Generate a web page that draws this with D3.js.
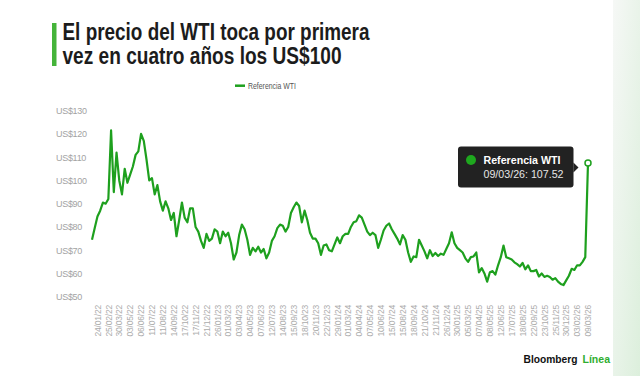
<!DOCTYPE html>
<html>
<head>
<meta charset="utf-8">
<script src="https://cdn.jsdelivr.net/npm/d3@7"></script>
<style>
  body { margin: 0; background: #fff; }
  svg { display: block; font-family: "Liberation Sans", Arial, sans-serif; }
</style>
</head>
<body>
<div id="chart"></div>
<script>
// tick labels on the x axis (one every 4 samples)
var dateLabels = ["24/01/22","25/02/22","30/03/22","03/05/22","06/06/22","11/07/22","11/08/22","14/09/22",
  "17/10/22","17/11/22","21/12/22","26/01/23","01/03/23","03/04/23","04/05/23","07/06/23","12/07/23",
  "14/08/23","15/09/23","18/10/23","20/11/23","22/12/23","29/01/24","01/03/24","04/04/24","07/05/24",
  "10/06/24","15/07/24","15/08/24","18/09/24","21/10/24","21/11/24","26/12/24","30/01/25","05/03/25",
  "07/04/25","08/05/25","12/06/25","17/07/25","18/08/25","22/09/25","23/10/25","25/11/25","30/12/25",
  "03/02/26","09/03/26"];

// WTI price, roughly weekly samples
var wti = [74.5,79.5,84.5,87,90.5,90,92,121.5,95,112,100,94,105,99,102.5,106,111,112.5,120,117,
  109,100,101,94,98,91,87,91,88,83,86,76,83,90.5,84,82,88,88,80,78,
  74,71,77,74,75,79,78,73,78,76,77.5,73,66,69,76.5,81,79,74.5,68,71,
  69.5,71.5,69,70.5,66.5,69,74,76,79.5,81,80.5,78,80,86,88.5,90.5,89,82,87,83,
  77.5,75,75,73,68,72,72.5,70,69.5,72.5,75.5,73,76,77,77,80,82,82.5,85,84,
  81,78,76.5,77.5,76.5,71,74.5,78.5,80.5,81.5,79,77,75,72.5,76.5,74.5,69,65,67.3,67,
  74.5,72,69.5,66.5,70,67.5,68.8,67.5,68.5,68,70.5,73,77.7,73,71,70,69,66.5,65,67,
  67.3,69,60.5,62.3,60,56.5,60.5,61,59.5,63.5,67,72,67,66.5,66,64.8,64,63,64.5,61.8,
  63.5,61,61,61.5,58.7,60,58.5,59,58.5,57.3,58,56.5,55.5,55,57,59,62,61.5,63.5,63.5,
  65,67,107.52];

var yTicks = [50,60,70,80,90,100,110,120,130];
var seriesName = "Referencia WTI";

var W = 640, H = 376;
var green = "#1ea01e";

var svg = d3.select("#chart").append("svg")
    .attr("width", W)
    .attr("height", H);

var defs = svg.append("defs");
var grad = defs.append("linearGradient").attr("id", "edge").attr("x1", 0).attr("x2", 1).attr("y1", 0).attr("y2", 1);
grad.append("stop").attr("offset", "0%").attr("stop-color", "#f6f8f6");
grad.append("stop").attr("offset", "100%").attr("stop-color", "#dcefdc");

svg.append("rect").attr("width", W).attr("height", H).attr("fill", "#fff");
// faint backdrop outside the card on the right
svg.append("rect").attr("x", 613).attr("y", 0).attr("width", W - 613).attr("height", H).attr("fill", "url(#edge)");

// title with the green bar
svg.append("rect").attr("x", 52).attr("y", 23).attr("width", 4.5).attr("height", 43).attr("fill", "#45b43a");
svg.append("text").attr("x", 62.5).attr("y", 40)
    .attr("font-size", 23).attr("font-weight", "bold").attr("fill", "#1c1c1c")
    .attr("textLength", 307).attr("lengthAdjust", "spacingAndGlyphs")
    .text("El precio del WTI toca por primera");
svg.append("text").attr("x", 62.5).attr("y", 63.5)
    .attr("font-size", 23).attr("font-weight", "bold").attr("fill", "#1c1c1c")
    .attr("textLength", 279).attr("lengthAdjust", "spacingAndGlyphs")
    .text("vez en cuatro años los US$100");

// legend
svg.append("line").attr("x1", 235).attr("x2", 245).attr("y1", 85.7).attr("y2", 85.7)
    .attr("stroke", green).attr("stroke-width", 2.5);
svg.append("text").attr("x", 248).attr("y", 89)
    .attr("font-size", 9).attr("fill", "#555")
    .attr("textLength", 48).attr("lengthAdjust", "spacingAndGlyphs")
    .text(seriesName);

// scales
var x = d3.scaleLinear().domain([0, wti.length - 1]).range([92, 588]);
var y = d3.scaleLinear().domain([50, 130]).range([296.7, 110.7]);

// y axis (labels only)
var yAxis = svg.append("g").attr("transform", "translate(56,0)")
    .call(d3.axisRight(y).tickValues(yTicks).tickSize(0).tickPadding(0).tickFormat(d => "US$" + d));
yAxis.select(".domain").remove();
yAxis.selectAll("text")
    .attr("fill", "#a3a3a3")
    .style("font-size", "9px")
    .style("font-family", "Liberation Sans, Arial, sans-serif")
    .attr("letter-spacing", "-0.3");

// x axis, one tick per 4 samples starting at sample 2
var tickIdx = dateLabels.map((d, k) => 2 + 4 * k);
var xAxis = svg.append("g").attr("transform", "translate(0,305)")
    .call(d3.axisBottom(x).tickValues(tickIdx).tickSize(0).tickPadding(0)
      .tickFormat(d => dateLabels[(d - 2) / 4]));
xAxis.select(".domain").remove();
xAxis.selectAll("text")
    .attr("fill", "#ababab")
    .style("font-size", "8.5px")
    .style("font-family", "Liberation Sans, Arial, sans-serif")
    .attr("letter-spacing", "-0.2")
    .attr("text-anchor", "end")
    .attr("transform", "rotate(-90)")
    .attr("x", 0)
    .attr("y", 0)
    .attr("dy", "0.32em");

// the line
svg.append("path")
    .datum(wti)
    .attr("d", d3.line().x((d, i) => x(i)).y(d => y(d)))
    .attr("fill", "none")
    .attr("stroke", green)
    .attr("stroke-width", 2.2)
    .attr("stroke-linejoin", "round");

// last point marker
var last = wti.length - 1;
svg.append("circle")
    .attr("cx", x(last)).attr("cy", y(wti[last])).attr("r", 3)
    .attr("fill", "#fff").attr("stroke", green).attr("stroke-width", 1.5);

// tooltip next to the last point
var tx = x(last) - 10, ty = y(wti[last]);
var tip = svg.append("g");
tip.append("rect").attr("x", tx - 120).attr("y", ty - 16.5).attr("width", 115.5).attr("height", 41)
    .attr("rx", 3).attr("fill", "#222");
tip.append("path")
    .attr("d", `M${tx - 4.6},${ty - 0.5} L${tx + 0.5},${ty + 4.5} L${tx - 4.6},${ty + 9.5} Z`)
    .attr("fill", "#222");
tip.append("circle").attr("cx", tx - 107).attr("cy", ty - 3).attr("r", 5).attr("fill", "#1ea81e");
tip.append("text").attr("x", tx - 94.5).attr("y", ty + 1)
    .attr("font-size", 10).attr("font-weight", "bold").attr("fill", "#fff")
    .attr("textLength", 77).attr("lengthAdjust", "spacingAndGlyphs")
    .text(seriesName);
tip.append("text").attr("x", tx - 94.5).attr("y", ty + 15)
    .attr("font-size", 10.5).attr("fill", "#e6e6e6")
    .attr("textLength", 80).attr("lengthAdjust", "spacingAndGlyphs")
    .text("09/03/26: " + wti[last]);

// branding
svg.append("text").attr("x", 523.5).attr("y", 363)
    .attr("font-size", 11.5).attr("font-weight", "bold").attr("fill", "#111")
    .attr("textLength", 54).attr("lengthAdjust", "spacingAndGlyphs")
    .text("Bloomberg");
svg.append("text").attr("x", 582.5).attr("y", 363)
    .attr("font-size", 11.5).attr("font-weight", "bold").attr("fill", "#2fae2f")
    .attr("textLength", 27.5).attr("lengthAdjust", "spacingAndGlyphs")
    .text("Línea");
</script>
</body>
</html>
